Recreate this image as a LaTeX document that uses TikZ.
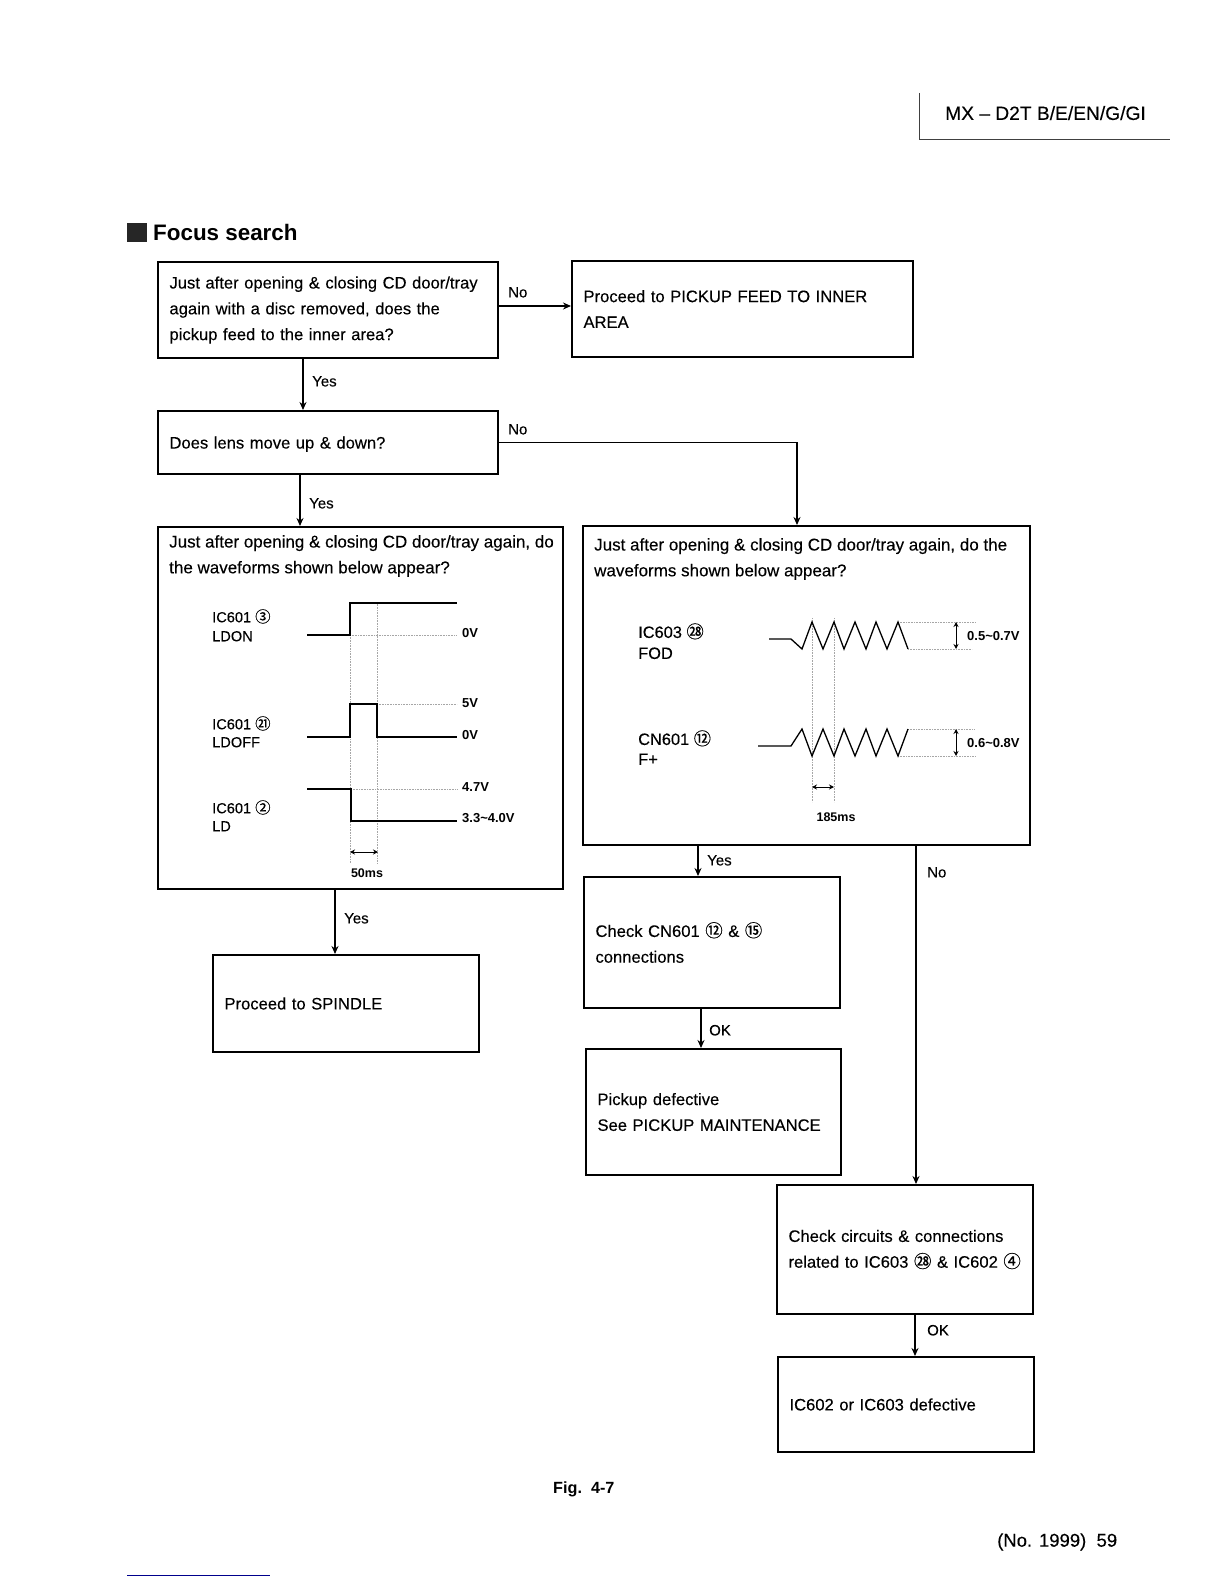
\documentclass[tikz,border=0pt]{standalone}
\usepackage{fontspec}
\setmainfont{Liberation Sans}[FakeBold=0.2,BoldFeatures={FakeBold=0}]
\newfontfamily\cjk{Noto Sans CJK SC}[FakeBold=0.5]
\newcommand{\cnum}[1]{\scalebox{1.05}{\cjk #1}}
\usetikzlibrary{arrows.meta}
\tikzset{
  >={Stealth[length=8pt,width=7pt]},
  box/.style n args={2}{draw,line width=1.1pt,outer sep=0pt,anchor=north west,inner xsep=11.5pt,inner ysep=0pt,
    align=left,minimum width=#1pt,minimum height=#2pt,text width=#1pt-23pt,
    font=\fontsize{16.6}{25.8}\selectfont},
  bodytext/.style={inner sep=0pt,anchor=west,align=left,font=\fontsize{17}{25.8}\selectfont},
  lbl/.style={inner sep=0pt,anchor=west,text height=0.72*#1pt,text depth=0pt,font=\fontsize{#1}{#1}\selectfont},
  lbl/.default=15,
  boldlbl/.style={lbl=#1,font=\bfseries\fontsize{#1}{#1}\selectfont},
  boldlbl/.default=13,
  conn/.style={->,line width=1.5pt,shorten >=1pt},
  wave/.style={line width=1.3pt},
  guide/.style={densely dotted,line width=.6pt,black!35},
  dim/.style={<->,line width=.9pt,>={Stealth[length=5pt,width=5pt]}}
}
\begin{document}
\begin{tikzpicture}[x=1pt,y=-1pt]
\useasboundingbox (0,0) rectangle (1224,1584);

% page header and footer
\draw[line width=.9pt,black!75] (919,93) -- (919,139) -- (1170,139);
\node[lbl=19.2] (model) at (945,113) {MX -- D2T B/E/EN/G/GI};
\fill[black!85] (127,223) rectangle (147,242);
\node[boldlbl=22.4] (title) at (153,232) {Focus search};
\node[boldlbl=16.2] (figno) at (553,1488) {Fig.\ \ 4-7};
\node[lbl=18.5] (pageno) at (997,1540) {(No. 1999)\ \ 59};
\draw[line width=1pt,blue!55!black] (127,1575) -- (270,1575);

% flow chart boxes
\node[box={340}{96}] (q1) at (158,262) {Just after opening \& closing CD door/tray\\again with a disc removed, does the\\pickup feed to the inner area?};
\node[box={341}{96}] (feed) at (572,261) {Proceed to PICKUP FEED TO INNER\\AREA};
\node[box={340}{63},text depth=0pt] (q2) at (158,411) {Does lens move up \& down?};
\node[box={405}{362}] (q3) at (158,527) {};
\node[box={447}{319}] (q4) at (583,526) {};
\node[box={266}{97}] (spindle) at (213,955) {Proceed to SPINDLE};
\node[box={256}{131}] (check) at (584,877) {Check CN601 \cnum{⑫} \& \cnum{⑮}\\connections};
\node[box={255}{126}] (pickup) at (586,1049) {Pickup defective\\See PICKUP MAINTENANCE};
\node[box={256}{129}] (circuits) at (777,1185) {Check circuits \& connections\\\mbox{related to IC603 \cnum{㉘} \& IC602 \cnum{④}}};
\node[box={256}{95}] (defect) at (778,1357) {IC602 or IC603 defective};
\node[bodytext] (q3text) at (169,556) {Just after opening \& closing CD door/tray again, do\\the waveforms shown below appear?};
\node[bodytext] (q4text) at (594,559) {Just after opening \& closing CD door/tray again, do the\\waveforms shown below appear?};

% connectors
\coordinate (q1no) at (498,306);
\coordinate (q1yes) at (303,358);
\coordinate (q2yes) at (300,474);
\coordinate (q2in) at (797,526);
\coordinate (q3yes) at (335,889);
\coordinate (q4yes) at (698,845);
\coordinate (q4no) at (916,845);
\coordinate (checkok) at (701,1008);
\coordinate (circok) at (915,1314);
\draw[conn] (q1no) -- (q1no -| feed.west);
\draw[conn] (q1yes) -- (q1yes |- q2.north);
\draw[conn] (q2.east) -| (q2in);
\draw[conn] (q2yes) -- (q2yes |- q3.north);
\draw[conn] (q3yes) -- (q3yes |- spindle.north);
\draw[conn] (q4yes) -- (q4yes |- check.north);
\draw[conn] (checkok) -- (checkok |- pickup.north);
\draw[conn] (q4no) -- (q4no |- circuits.north);
\draw[conn] (circok) -- (circok |- defect.north);

\node[lbl] (l1) at (508,292) {No};
\node[lbl] (l2) at (312,381) {Yes};
\node[lbl] (l3) at (508,429) {No};
\node[lbl] (l4) at (309,503) {Yes};
\node[lbl] (l5) at (344,918) {Yes};
\node[lbl] (l6) at (707,860) {Yes};
\node[lbl] (l7) at (927,872) {No};
\node[lbl] (l8) at (709,1030) {OK};
\node[lbl] (l9) at (927,1330) {OK};

% left waveforms
\node[lbl=14.6] (s1) at (212,617) {IC601 \cnum{③}};
\node[lbl=14.6] (s2) at (212,636) {LDON};
\node[lbl=14.6] (s3) at (212,724) {IC601 \cnum{㉑}};
\node[lbl=14.6] (s4) at (212,742) {LDOFF};
\node[lbl=14.6] (s5) at (212,808) {IC601 \cnum{②}};
\node[lbl=14.6] (s6) at (212,826) {LD};

\draw[guide] (350,635) -- (350,863);
\draw[guide] (377,602) -- (377,863);
\draw[guide] (350,635) -- (456,635);
\draw[guide] (377,704) -- (457,704);
\draw[guide] (351,789) -- (457,789);
\draw[wave] (307,635) -- (350,635) -- (350,603) -- (457,603);
\draw[wave] (307,737) -- (350,737) -- (350,704) -- (377,704) -- (377,737) -- (457,737);
\draw[wave] (307,789) -- (351,789) -- (351,821) -- (457,821);
\draw[dim] (350,852) -- (378,852);

\node[boldlbl] (v1) at (462,633) {0V};
\node[boldlbl] (v2) at (462,703) {5V};
\node[boldlbl] (v3) at (462,735) {0V};
\node[boldlbl] (v4) at (462,787) {4.7V};
\node[boldlbl] (v5) at (462,818) {3.3\textasciitilde{}4.0V};
\node[boldlbl=12.5,anchor=center] (t1) at (367,873) {50ms};

% right waveforms
\node[lbl=16.4] (s7) at (638,632) {IC603 \cnum{㉘}};
\node[lbl=16.4] (s8) at (638,653) {FOD};
\node[lbl=16.4] (s9) at (638,739) {CN601 \cnum{⑫}};
\node[lbl=16.4] (s10) at (638,759) {F+};

\draw[guide] (812,618) -- (812,802);
\draw[guide] (834,618) -- (834,802);
\draw[guide] (898,622) -- (975,622);
\draw[guide] (908,649) -- (972,649);
\draw[guide] (908,729) -- (975,729);
\draw[guide] (898,756) -- (975,756);
\draw[wave] (769,639) -- (791,639) -- (802,649) -- (812,622) -- (823,649) -- (834,622) -- (844,649) -- (855,622) -- (866,649) -- (876,622) -- (887,649) -- (898,622) -- (908,649);
\draw[wave] (758,746) -- (791,746) -- (802,729) -- (812,756) -- (823,729) -- (834,756) -- (844,729) -- (855,756) -- (866,729) -- (876,756) -- (887,729) -- (898,756) -- (908,729);
\draw[dim] (956,622) -- (956,649);
\draw[dim] (956,729) -- (956,756);
\draw[dim] (812,787) -- (834,787);

\node[boldlbl] (v6) at (967,636) {0.5\textasciitilde{}0.7V};
\node[boldlbl] (v7) at (967,743) {0.6\textasciitilde{}0.8V};
\node[boldlbl=12.5,anchor=center] (t2) at (836,817) {185ms};

\end{tikzpicture}
\end{document}
